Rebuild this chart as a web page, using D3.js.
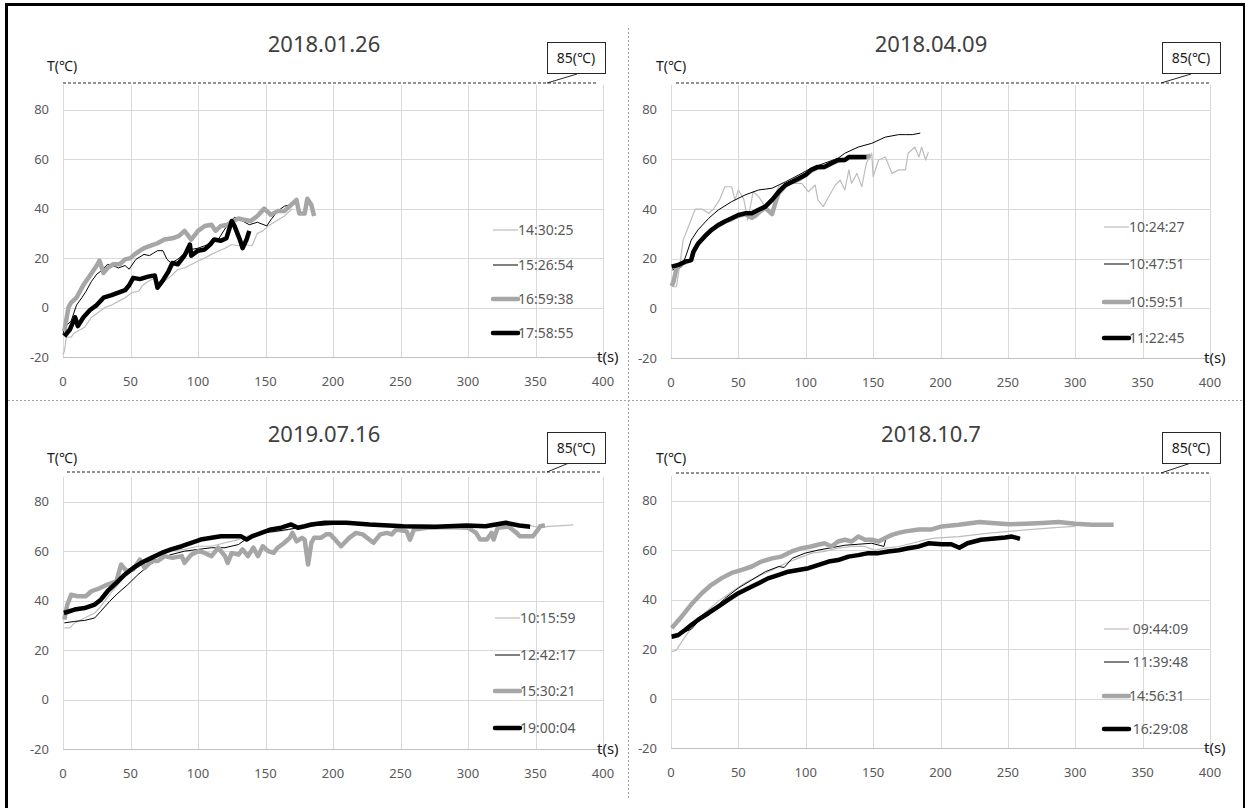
<!DOCTYPE html>
<html>
<head>
<meta charset="utf-8">
<script src="https://cdn.jsdelivr.net/npm/d3@7"></script>
<style>
  body { margin: 0; background: #fff; }
  text { font-family: "Noto Sans", "DejaVu Sans", sans-serif; }
  .leg { white-space: pre; }
</style>
</head>
<body>
<script>
// ---- data: [t (s), T (°C)] ----
var titles = ["2018.01.26", "2018.04.09", "2019.07.16", "2018.10.7"];
var xTicks = [0, 50, 100, 150, 200, 250, 300, 350, 400];
var yTicks = [-20, 0, 20, 40, 60, 80];
var limitLabel = "85(℃)";

var names1 = ["14:30:25", "15:26:54", "16:59:38", "17:58:55"];
var names2 = ["10:24:27", "10:47:51", "10:59:51", "11:22:45"];
var names3 = ["10:15:59", "12:42:17", "15:30:21", "19:00:04"];
var names4 = [" 09:44:09", " 11:39:48", "14:56:31", " 16:29:08"];

var p1s1 = [[0,-19],[1,-17.7],[2.5,-12],[6,-12],[8,-10.5],[11,-9.5],[16,-8],[21,-4],[26,-2],[31,0],[36,1],[41,2.5],[46,4],[51,6],[56,6.6],[59,9],[63,10.5],[68,12],[70,8.6],[75,10.6],[80,12.7],[85,15.4],[90,16],[95,17.4],[100,18.8],[105,20],[110,21.5],[115,22.8],[120,24],[125,25.5],[130,25],[134,25.5],[140,25],[142,27.5],[144,30],[148,31],[152,33],[158,35],[164,37],[170,40]];
var p1s2 = [[0,-11],[1,-8],[6,-5.5],[10,1],[14,4],[17,6.5],[21,10.5],[25,13.5],[28,14.7],[33,17.5],[37,17],[41,16],[46,17],[49,15.5],[54,19.5],[60,21.5],[64,21],[67,22],[70,23],[74,23],[77,19.5],[80,18],[85,19.5],[90,22],[95,23.5],[100,24],[105,25],[110,26],[115,27.5],[119,31],[122,33.5],[127,36.5],[133,35],[138,33.5],[144,34.5],[151,33],[154,35.5],[159,39],[164,41],[168,41.5],[172,42]];
var p1s3 = [[1,-9.6],[4,0],[6,2],[10,4],[15,9],[20,13],[25,17],[27,19],[30,14],[33,16],[37,17.5],[42,17.5],[46,19.5],[50,20],[53,21.5],[57,23],[60,24],[65,25],[70,26],[75,27.5],[81,28],[86,29],[90,31],[95,27.5],[100,31],[105,33],[110,33.5],[113,31],[117,33],[122,33.5],[126,35],[130,36],[134,35.5],[139,35],[144,37],[149,40],[154,37.5],[159,39],[164,39],[169,41.5],[173,43.5],[175,38],[179,38],[181,44],[184,41.5],[186,37]];
var p1s4 = [[1,-11.6],[5,-9],[9,-4],[11,-7.5],[15,-4],[20,-1],[25,1],[30,4],[36,5],[41,6],[46,7],[49,9],[52,12],[57,11.5],[63,12.5],[68,13],[70,8],[74,11],[78,14.5],[81,18],[85,17.5],[90,21],[94,25.5],[95,21],[100,23],[105,23.5],[109,25.5],[112,27.5],[117,27],[121,28],[125,35],[127,33],[131,27.5],[133,24],[136,27.5],[138,31]];

var p2s1 = [[1,10],[1.7,8.7],[4,8.7],[6.7,18],[9,27.5],[13,33],[18,40],[22.8,40],[28,38.3],[31.4,40],[34,42],[36,43.7],[40,49],[45,49],[47.5,43.7],[50,47.7],[54,44],[57,35.6],[61,47],[65,45],[70,41],[75,43.7],[80,49],[90,50.4],[97,50.4],[102,47],[107,49.7],[109,43.7],[113,41],[117,45],[122,49.7],[125.5,51.7],[129,47.7],[132,55.8],[134,50.4],[138,54.4],[141.6,49],[145,58.5],[149,62.5],[150,53],[154,59.8],[159,61],[164,54.4],[169,55.8],[174,55.8],[176,62.5],[181,65],[184,61],[186,65],[189,59.8],[191,63]];
var p2s2 = [[1,15.5],[5,16],[8,16.8],[11.6,22],[15,27.5],[20,31.6],[28,36.3],[35,39.6],[45,43],[55,45.7],[65,47.7],[75,48.4],[85,51],[95,53.8],[104,56.5],[114,58.5],[124,60.5],[129,62.5],[139,65],[149,66.5],[159,69],[169,70],[174,70],[179,70],[185,70.6]];
var p2s3 = [[0.5,9],[2,11],[4,16],[8,18],[15,19.5],[17,23],[20,26],[25,29],[30,31.5],[35,33.3],[40,35],[45,36],[50,37.3],[55,38],[60,36.5],[63,37.5],[66,39],[70,40.5],[75,38],[78,43.5],[80,46.5],[85,49.5],[90,51],[95,52],[100,53.8],[104,55.5],[109,56.8],[114,57],[119,58.3],[124,59.5],[129,59.8],[132,60.7],[139,60.8],[145,61],[148,61.5]];
var p2s4 = [[0.5,16.8],[5.4,17.5],[10.4,18.8],[15,19.5],[16.6,22.8],[20,26],[25,29],[30,31.6],[35,33.6],[40,35],[45,36.3],[50,37.6],[55,38.3],[60,38.3],[65,39.7],[70,41],[75,43.7],[80,47],[85,49.7],[90,51],[95,52.4],[100,53.8],[104,55.8],[109,57],[114,57],[119,58.5],[124,59.8],[129,59.8],[132,61],[139,61],[145,61]];

var p3s1 = [[1,29],[5,29],[8.6,31],[16,33],[23.5,35],[28,37.7],[34.5,42.4],[40.7,46.5],[48,51.2],[55.5,54.6],[63,56.6],[70,58],[80,60],[90,60.7],[100,62],[110,62],[120,63.4],[130,64.7],[140,66.8],[150,67.4],[160,68],[175,69.5],[190,70.5],[210,71],[230,70.5],[250,70.3],[270,70],[290,70.2],[310,70.5],[330,71],[345,70.5],[353,69.5],[360,70],[370,70.3],[378,70.6]];
var p3s2 = [[1,31],[8.6,31.6],[16,32],[23.5,33],[28,35.7],[34.5,39.7],[40.7,43],[48,46.5],[55.5,50.5],[63,54],[70,56.6],[80,58.6],[90,60],[100,60.7],[110,61.4],[120,61.4],[130,62.7],[137,65.4],[147,67.4],[157,68],[167,68.8],[174,69.5],[185,70.3],[200,70.8],[220,71],[240,70.5],[260,70.2],[280,70],[300,70.3],[320,70.5],[340,70.3]];
var p3s3 = [[1,32.3],[3,38],[6,42.4],[11,41.8],[17,41.8],[21,43.8],[27,45],[33,46.5],[39.5,47.8],[43,54.6],[47,52],[52,52.6],[57,56.6],[60.5,53.2],[65.5,56],[70,56],[75.3,58],[81,57.3],[88,58],[90,55.3],[95,58.6],[100,60],[105,59.3],[110,58],[115,61.4],[120,58],[122,55.3],[125,59.3],[130,58.6],[133,60.7],[137,58],[141,61.4],[144.5,58],[148,62],[152,60],[156,59.3],[159,61.4],[164,63.4],[168,65.4],[170,67.4],[173,64],[177,65.4],[179,64.7],[181.5,54.6],[184,63.4],[186,65.4],[191,65.4],[195,66.8],[198,66.8],[206,62],[212,65.4],[217,67.4],[222,66.8],[230,63.4],[235,66.8],[240,67.4],[243.5,66.8],[247,68.8],[254.5,68],[257,64.7],[260,68.8],[270,69.5],[285,69.8],[300,69.5],[306,67.4],[309,64.7],[314,64.7],[317.5,67.4],[319,64.7],[322,69.5],[330,70],[336,67.4],[338.5,66],[343.5,66],[348,66],[352,68.8],[353.5,70.1],[357,70.5]];
var p3s4 = [[0.7,35],[8.6,36.4],[16,37],[23.5,38.4],[28,40.4],[33,43.8],[39.5,47.2],[45.7,50.5],[52,53.2],[58,55.3],[65.5,57.3],[73,59.3],[80,60.7],[88,62],[95,63.4],[102,64.7],[110,65.4],[117,66],[125,66],[132,66],[136,64.7],[140,66],[147,67.4],[154,68.8],[161.7,69.5],[169,70.8],[174,69.5],[179,70.1],[184,70.8],[194,71.5],[210,71.5],[227,70.8],[252,70.1],[276,69.9],[299,70.4],[313,70.1],[328,71.5],[338,70.4],[346,69.9]];

var p4s1 = [[0.5,19],[4,19.6],[8,23],[15,28.5],[25,34.6],[35,39.3],[45,43.2],[55,46.8],[65,49.5],[75,52],[85,54.7],[94.5,56.8],[104.5,58.8],[114,59.5],[124,60.8],[134,61.5],[144,61.5],[151,60],[159,60.8],[169,61.5],[179,62.8],[188.6,64.2],[196,64.9],[213.5,65.5],[238,67],[263,68.2],[287.5,69.2],[300,69.6]];
var p4s2 = [[0.5,24.5],[10,27],[15,28],[20,31],[30,35],[40,40.5],[50,44.7],[60,48],[70,51.3],[80,53.4],[84,53],[90,56.7],[99.5,58.8],[109,60],[119,61],[129,62],[139,62.4],[149,62.8],[158,61.5],[160,65.7],[169,67],[179,67.6],[188.6,68.3],[213.5,70],[228,70.9],[232,70.7]];
var p4s3 = [[0.5,28.5],[8,33.2],[15,38],[23,42.7],[30,46],[37.6,48.7],[45,50.8],[52.5,52],[60,53.4],[67,55.4],[75,56.7],[82,57.4],[89.6,59.5],[97,60.8],[104,61.5],[109,62.2],[114,62.8],[119,61.5],[124,63.5],[129,64.2],[134,63.5],[139,65.5],[144,64.2],[149,64.2],[154,63.5],[159,64.9],[164,66.2],[169,67],[174,67.6],[184,68.4],[193.5,68.4],[201,69.6],[213.5,70.3],[229,71.4],[238,71],[251,70.5],[263,70.7],[275.5,71],[287.5,71.4],[300,70.7],[312.5,70.3],[328.5,70.3]];
var p4s4 = [[0.5,25],[5.4,25.7],[10.4,27.7],[15,29.7],[20,31.8],[27.7,34.5],[35,37.2],[42.6,40],[50,42.6],[57.4,44.6],[65,46.6],[72,48.6],[80,50],[87,51.3],[94.5,52],[102,52.7],[109,54],[117,55.4],[124,56],[131.7,57.4],[139,58],[146.5,58.8],[154,58.8],[161,59.5],[169,60],[176,60.8],[184,61.5],[191,62.8],[201,62.4],[208,62.4],[214,61],[220,62.8],[230,64.2],[238,64.6],[248,65.1],[253,65.5],[259,64.6]];

// ---- layout ----
var width = 1246, height = 808;
var styles = [
  {color: "#bdbdbd", w: 1.2},
  {color: "#000000", w: 1},
  {color: "#a6a6a6", w: 4.5},
  {color: "#000000", w: 4.5}
];

var panels = [
  {title: titles[0], names: names1, series: [p1s1, p1s2, p1s3, p1s4],
   left: 63, right: 603, top: 85, bottom: 357, tx: 324, ty: 52, lx: 47, ly: 71,
   dash: [63, 597, 83], box: [547, 42], lead: [577, 74, 547, 83],
   legX: 493, legY: [230, 265, 299, 333]},
  {title: titles[1], names: names2, series: [p2s1, p2s2, p2s3, p2s4],
   left: 671, right: 1210, top: 85, bottom: 358, tx: 931, ty: 52, lx: 656, ly: 71,
   dash: [676, 1209, 83], box: [1162, 42], lead: [1191, 74, 1161, 83],
   legX: 1104, legY: [227, 264, 302, 338]},
  {title: titles[2], names: names3, series: [p3s1, p3s2, p3s3, p3s4],
   left: 63, right: 603, top: 477, bottom: 749, tx: 324, ty: 442, lx: 47, ly: 463,
   dash: [67, 601, 472], box: [547, 432], lead: [569, 463, 547, 472],
   legX: 495, legY: [618, 655, 691, 728]},
  {title: titles[3], names: names4, series: [p4s1, p4s2, p4s3, p4s4],
   left: 671, right: 1210, top: 476, bottom: 748, tx: 931, ty: 442, lx: 656, ly: 463,
   dash: [676, 1209, 473], box: [1162, 432], lead: [1191, 463, 1161, 473],
   legX: 1104, legY: [629, 662, 696, 729]}
];

var svg = d3.select("body").append("svg")
    .attr("width", width)
    .attr("height", height);

svg.append("rect").attr("width", width).attr("height", height).attr("fill", "#fff");

// dotted dividers between the four charts
svg.append("line")
    .attr("x1", 8).attr("x2", 1242).attr("y1", 400.5).attr("y2", 400.5)
    .attr("stroke", "#a0a0a0").attr("stroke-dasharray", "2,2");
svg.append("line")
    .attr("x1", 628.5).attr("x2", 628.5).attr("y1", 28).attr("y2", 800)
    .attr("stroke", "#a0a0a0").attr("stroke-dasharray", "2,2");

panels.forEach(function(p) {
  var x = d3.scaleLinear().domain([0, 400]).range([p.left, p.right]);
  var y = d3.scaleLinear().domain([-20, 90]).range([p.bottom, p.top]);
  var g = svg.append("g");

  // grid
  g.selectAll(".hg").data(yTicks.slice(1)).enter().append("line")
      .attr("x1", p.left).attr("x2", p.right)
      .attr("y1", function(d) { return Math.round(y(d)) + 0.5; })
      .attr("y2", function(d) { return Math.round(y(d)) + 0.5; })
      .attr("stroke", "#d9d9d9");
  g.selectAll(".vg").data(xTicks).enter().append("line")
      .attr("x1", function(d) { return Math.round(x(d)) + 0.5; })
      .attr("x2", function(d) { return Math.round(x(d)) + 0.5; })
      .attr("y1", p.top).attr("y2", p.bottom)
      .attr("stroke", "#d9d9d9");
  g.append("line")
      .attr("x1", p.left).attr("x2", p.right)
      .attr("y1", Math.round(y(-20)) + 0.5).attr("y2", Math.round(y(-20)) + 0.5)
      .attr("stroke", "#bfbfbf");

  // tick labels
  g.selectAll(".yl").data(yTicks).enter().append("text")
      .attr("x", p.left - 14).attr("y", function(d) { return y(d); })
      .attr("dy", "0.35em").attr("text-anchor", "end")
      .attr("font-size", 13).attr("fill", "#595959")
      .text(function(d) { return d; });
  g.selectAll(".xl").data(xTicks).enter().append("text")
      .attr("x", function(d) { return x(d); }).attr("y", p.bottom + 29)
      .attr("text-anchor", "middle")
      .attr("font-size", 13).attr("fill", "#595959")
      .text(function(d) { return d; });

  // titles and axis names
  g.append("text").attr("x", p.tx).attr("y", p.ty)
      .attr("text-anchor", "middle").attr("font-size", 22).attr("fill", "#404040")
      .text(p.title);
  g.append("text").attr("x", p.lx).attr("y", p.ly)
      .attr("font-size", 14).attr("fill", "#1a1a1a").text("T(℃)");
  g.append("text").attr("x", p.right - 6).attr("y", p.bottom + 5)
      .attr("font-size", 15).attr("fill", "#1a1a1a").text("t(s)");

  // 85 °C limit line with callout
  g.append("line")
      .attr("x1", p.dash[0]).attr("x2", p.dash[1]).attr("y1", p.dash[2]).attr("y2", p.dash[2])
      .attr("stroke", "#262626").attr("stroke-width", 1.2).attr("stroke-dasharray", "3,2");
  g.append("line")
      .attr("x1", p.lead[0]).attr("y1", p.lead[1]).attr("x2", p.lead[2]).attr("y2", p.lead[3])
      .attr("stroke", "#262626");
  g.append("rect")
      .attr("x", p.box[0] + 0.5).attr("y", p.box[1] + 0.5).attr("width", 58).attr("height", 31)
      .attr("fill", "#fff").attr("stroke", "#262626");
  g.append("text").attr("x", p.box[0] + 29).attr("y", p.box[1] + 21)
      .attr("text-anchor", "middle").attr("font-size", 14).attr("fill", "#1a1a1a")
      .text(limitLabel);

  // series
  var line = d3.line()
      .x(function(d) { return x(d[0]); })
      .y(function(d) { return y(d[1]); });
  p.series.forEach(function(s, i) {
    g.append("path").datum(s)
        .attr("d", line)
        .attr("fill", "none")
        .attr("stroke", styles[i].color)
        .attr("stroke-width", styles[i].w)
        .attr("stroke-linejoin", "round");
  });

  // legend
  p.names.forEach(function(n, i) {
    g.append("line")
        .attr("x1", p.legX).attr("x2", p.legX + 25)
        .attr("y1", p.legY[i]).attr("y2", p.legY[i])
        .attr("stroke", styles[i].color).attr("stroke-width", styles[i].w)
        .attr("stroke-linecap", i > 1 ? "round" : "butt");
    g.append("text").attr("class", "leg")
        .attr("x", p.legX + 25).attr("y", p.legY[i]).attr("dy", "0.35em")
        .attr("font-size", 14).attr("fill", "#595959")
        .text(n);
  });
});

// outer frame
svg.append("line").attr("x1", 5).attr("x2", 1245).attr("y1", 4.5).attr("y2", 4.5)
    .attr("stroke", "#000").attr("stroke-width", 3);
svg.append("line").attr("x1", 6.5).attr("x2", 6.5).attr("y1", 3).attr("y2", height)
    .attr("stroke", "#000").attr("stroke-width", 3);
svg.append("line").attr("x1", 1244).attr("x2", 1244).attr("y1", 3).attr("y2", height)
    .attr("stroke", "#000").attr("stroke-width", 2);
</script>
</body>
</html>
